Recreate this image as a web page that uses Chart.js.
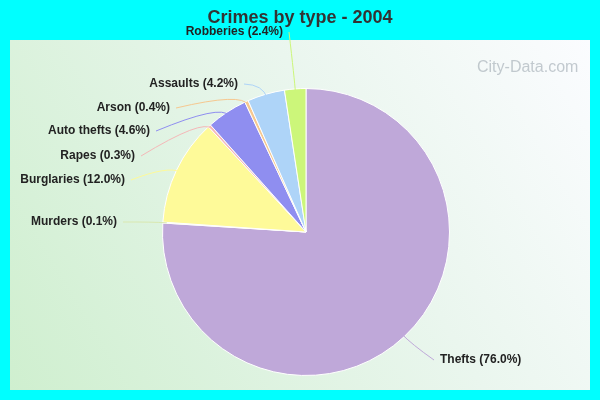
<!DOCTYPE html>
<html>
<head>
<meta charset="utf-8">
<script src="https://cdn.jsdelivr.net/npm/chart.js@4"></script>
<style>
  html, body { margin: 0; padding: 0; background: #00ffff; }
  #wrap { width: 600px; height: 400px; position: relative; }
</style>
</head>
<body>
<div id="wrap"><canvas id="chart" width="600" height="400"></canvas></div>
<script>
const categories = ["Thefts", "Murders", "Burglaries", "Rapes", "Auto thefts", "Arson", "Assaults", "Robberies"];
const shares = [76.0, 0.1, 12.0, 0.3, 4.6, 0.4, 4.2, 2.4];
const colors = ["#bfa8d9", "#d9e8b0", "#fefa99", "#f5b8b8", "#8f8ef0", "#f6c890", "#aed4f8", "#ccf67a"];

// where each label text ends (right-aligned) or starts (Thefts)
const labelSpots = [
  { x: 440, y: 360, align: "left" },
  { x: 117, y: 222, align: "right" },
  { x: 125, y: 180, align: "right" },
  { x: 135, y: 156, align: "right" },
  { x: 150, y: 131, align: "right" },
  { x: 170, y: 108, align: "right" },
  { x: 238, y: 84, align: "right" },
  { x: 283, y: 32, align: "right" }
];

const backdrop = {
  id: "backdrop",
  beforeDraw(chart) {
    const c = chart.ctx;
    c.save();
    c.fillStyle = "#00ffff";
    c.fillRect(0, 0, 600, 400);
    const g = c.createLinearGradient(10, 390, 590, 40);
    g.addColorStop(0, "#cfefcf");
    g.addColorStop(0.6, "#eaf6ee");
    g.addColorStop(1, "#fbfcff");
    c.fillStyle = g;
    c.fillRect(10, 40, 580, 350);
    c.fillStyle = "#333";
    c.font = "bold 18px 'Liberation Sans', Arial";
    c.textAlign = "center";
    c.textBaseline = "middle";
    c.fillText("Crimes by type - 2004", 300, 18);
    c.fillStyle = "rgba(150,160,170,0.55)";
    c.font = "16px 'Liberation Sans', Arial";
    c.textAlign = "left";
    c.fillText("City-Data.com", 477, 68);
    c.restore();
  },
  afterDatasetsDraw(chart) {
    const c = chart.ctx;
    const arcs = chart.getDatasetMeta(0).data;
    c.save();
    c.font = "bold 12px 'Liberation Sans', Arial";
    c.textBaseline = "middle";
    arcs.forEach((arc, i) => {
      const mid = (arc.startAngle + arc.endAngle) / 2;
      const r = arc.outerRadius;
      const sx = arc.x + Math.cos(mid) * (r - 4);
      const sy = arc.y + Math.sin(mid) * (r - 4);
      const ex = arc.x + Math.cos(mid) * (r + 10);
      const ey = arc.y + Math.sin(mid) * (r + 10);
      const s = labelSpots[i];
      const tx = s.align === "right" ? s.x + 6 : s.x - 6;
      c.strokeStyle = colors[i];
      c.lineWidth = 1;
      c.beginPath();
      c.moveTo(sx, sy);
      c.quadraticCurveTo(ex, ey, tx, s.y);
      c.stroke();
      c.fillStyle = "#222";
      c.textAlign = s.align;
      c.fillText(categories[i] + " (" + shares[i].toFixed(1) + "%)", s.x, s.y);
    });
    c.restore();
  }
};

new Chart(document.getElementById("chart"), {
  type: "pie",
  data: {
    labels: categories,
    datasets: [{
      data: shares,
      backgroundColor: colors,
      borderColor: "#ffffff",
      borderWidth: 1
    }]
  },
  options: {
    responsive: false,
    animation: false,
    layout: { padding: { left: 162, right: 150, top: 88, bottom: 24 } },
    plugins: { legend: { display: false }, tooltip: { enabled: false } }
  },
  plugins: [backdrop]
});
</script>
</body>
</html>
